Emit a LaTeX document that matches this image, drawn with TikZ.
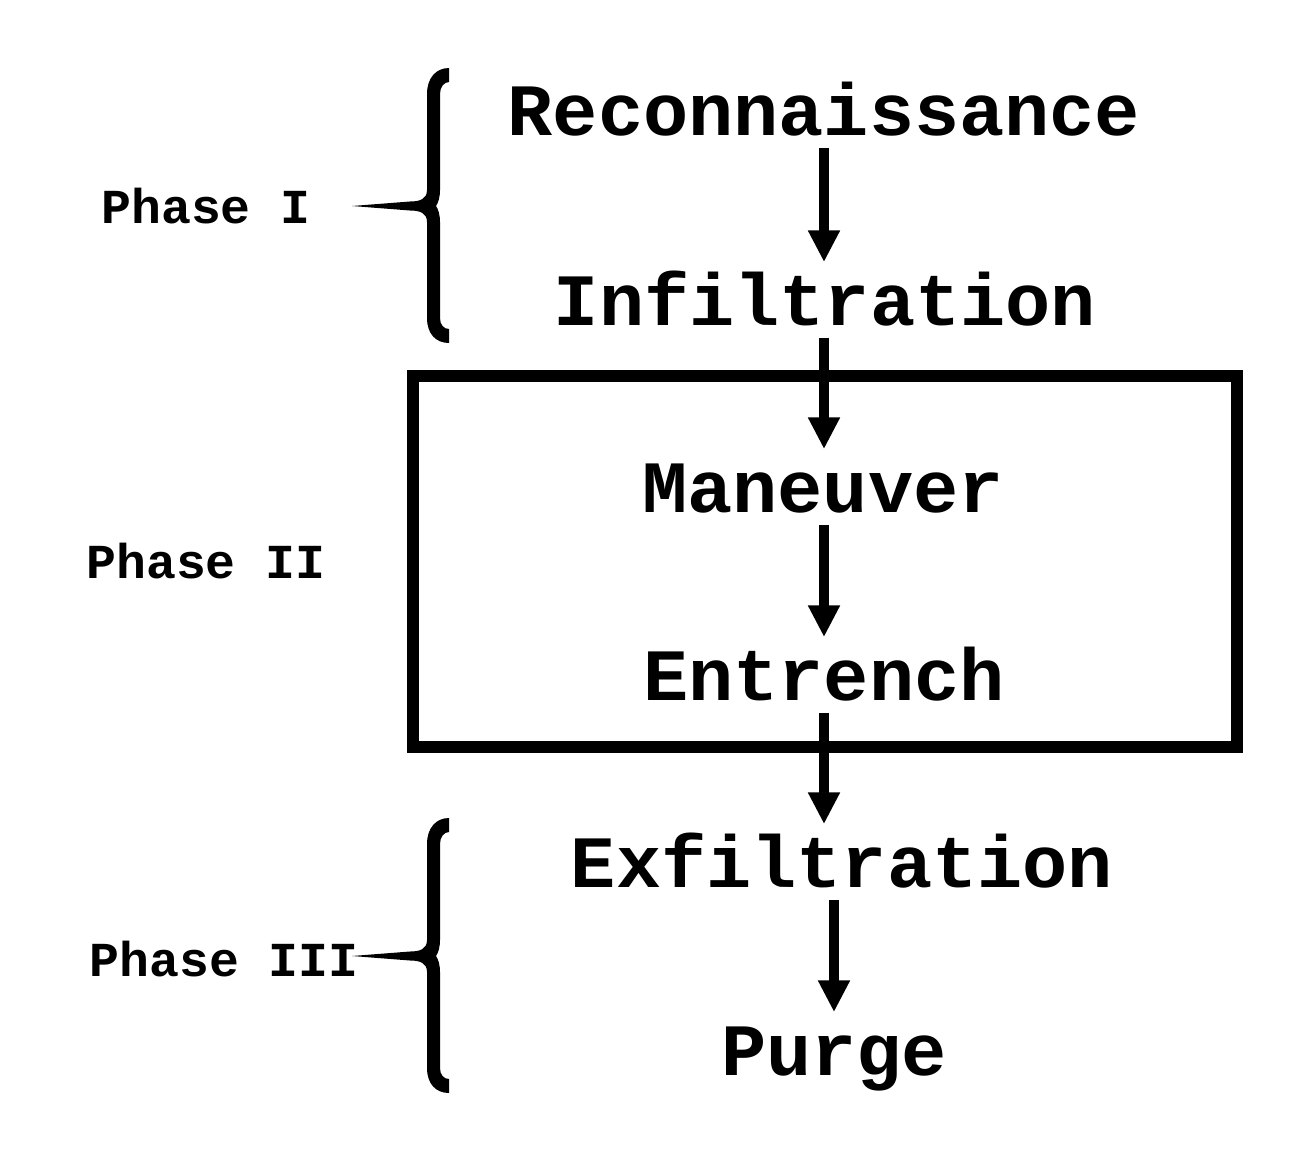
\documentclass[tikz,border=0pt]{standalone}
\usepackage{fontspec}
\setmainfont{Liberation Mono}[FakeStretch=1.02]
\usetikzlibrary{arrows.meta}

\begin{document}
\begin{tikzpicture}
[x=0.02cm, y=-0.02cm,
stage/.style={font=\bfseries\fontsize{42}{48}\selectfont, anchor=base,
  inner xsep=0pt, inner ysep=7pt, text height=28.6pt, text depth=0pt},
phase/.style={font=\bfseries\fontsize{27.8}{32}\selectfont, anchor=base, inner sep=0pt},
%
flow/.style={-{Triangle[length=18pt,width=17pt]}, line width=5.7pt},
phasebox/.style={draw=black, line width=6.8pt}]

\useasboundingbox (0,0) rectangle (1313,1164);

% stages
\node (recon) [stage] at (824,135) {Reconnaissance};
\node (infil) [stage] at (825,325) {Infiltration};
\node (maneuver) [stage] at (823,512) {Maneuver};
\node (entrench) [stage] at (824,700) {Entrench};
\node (exfil) [stage] at (842,887) {Exfiltration};
\node (purge) [stage] at (834,1075) {Purge};

% phases
\node (p1) [phase] at (206,223) {Phase I};
\node (p2) [phase] at (206,578) {Phase II};
\node (p3) [phase] at (224,976) {Phase III};

% phase II frame
\draw[phasebox] (413,376) rectangle (1237,747);

% braces of phase I and III
\foreach \m in {206,956}
  \fill[shift={(434,\m)}] (15,-138) .. controls (2,-138) and (-7,-128) .. (-7,-112)
    -- (-7,-16) .. controls (-7,-7) and (-14,-4.5) .. (-24,-4.5)
    -- (-82,0) -- (-24,4.5) .. controls (-14,4.5) and (-7,7) .. (-7,16)
    -- (-7,112) .. controls (-7,128) and (2,137) .. (15,137)
    -- (15,123) .. controls (10,123) and (6,119) .. (6,112)
    -- (6,16) .. controls (6,8) and (4,3) .. (2,0)
    .. controls (4,-3) and (6,-8) .. (6,-16)
    -- (6,-112) .. controls (6,-119) and (10,-124) .. (15,-124) -- cycle;

% flow
\draw[flow] (recon.south -| 824,0) -- (infil.north -| 824,0);
\draw[flow] (infil.south -| 824,0) -- (maneuver.north -| 824,0);
\draw[flow] (maneuver.south -| 824,0) -- (entrench.north -| 824,0);
\draw[flow] (entrench.south) -- (entrench.south |- exfil.north);
\draw[flow] (purge.north |- exfil.south) -- (purge.north);

\end{tikzpicture}
\end{document}
